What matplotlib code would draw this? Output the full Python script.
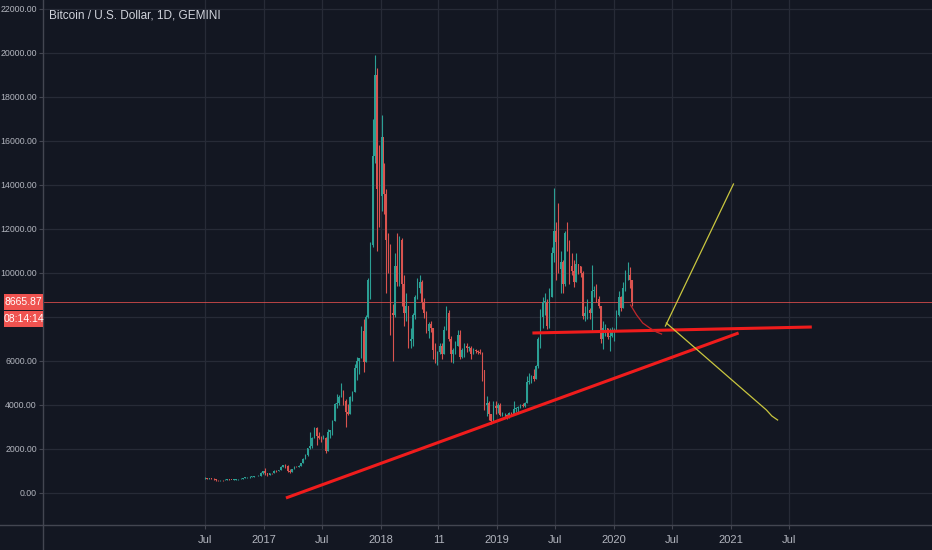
import matplotlib
matplotlib.use("Agg")
import matplotlib.pyplot as plt
import matplotlib.dates as mdates
from matplotlib.patches import Rectangle
from matplotlib.lines import Line2D
import numpy as np
import pandas as pd

# ---- data (weekly candles, weeks start Monday) ----
first_week = "2016-06-27"
first_open = 660

closes = [
    # 2016
    675, 650, 665, 655, 620, 590, 570, 580, 575, 605, 610, 608, 600, 612,
    615, 640, 655, 700, 705, 705, 735, 735, 765, 770, 790, 895, 1000,
    # 2017
    905, 820, 920, 915, 1015, 1000, 1050, 1175, 1270, 1235, 1020, 965, 1080,
    1195, 1180, 1240, 1350, 1560, 1745, 2040, 2150, 2520, 2960, 2600, 2520, 2500,
    2510, 1930, 2750, 2870, 3270, 4050, 4090, 4370, 4600, 4200, 3700, 3600, 4370,
    4600, 5680, 6000, 6150, 7350, 5950, 8000, 9700, 11250, 15300, 19000, 13800, 13500,
    # 2018
    16200, 13600, 11500, 11100, 8200, 8100, 10300, 9600, 11500, 9500, 8200, 8500, 6900,
    7000, 8100, 8900, 9300, 9600, 8700, 8200, 7350, 7700, 7500, 6500, 6200, 6400,
    6700, 6300, 7400, 8200, 7000, 6300, 6500, 6700, 7200, 6200, 6500, 6700, 6600,
    6600, 6300, 6500, 6450, 6400, 6350, 5600, 4000, 4100, 3600, 3250, 3950, 3850, 4000,
    # 2019
    3550, 3550, 3550, 3450, 3650, 3600, 3800, 3850, 3900, 4000, 3950, 4100, 5050,
    5100, 5300, 5200, 5750, 7000, 8000, 8700, 8700, 7600, 8900, 10900, 11900, 11400,
    10200, 10500, 9500, 11800, 11300, 10300, 10100, 9600, 10400, 10300, 10000, 8050, 8200,
    8300, 8200, 9200, 9200, 8800, 8500, 7000, 7500, 7500, 7100, 7150, 7350, 7400,
    # 2020
    8100, 8900, 8400, 9300, 9900, 9900, 9700, 8665.87,
]
highs = [
    705, 685, 680, 675, 660, 630, 600, 590, 590, 615, 630, 615, 610, 618,
    620, 645, 660, 700, 745, 740, 750, 750, 775, 780, 800, 935, 1010,
    1150, 910, 930, 925, 1030, 1060, 1055, 1210, 1290, 1330, 1250, 1070, 1090,
    1210, 1210, 1250, 1360, 1580, 1790, 2050, 2760, 2560, 2980, 2990, 2770, 2600,
    2650, 2560, 2900, 2880, 3300, 4100, 4480, 4450, 4980, 4700, 4250, 4050, 4400,
    4620, 5850, 6200, 6150, 7600, 7900, 8100, 9750, 11400, 17000, 19900, 19300, 15800,
    17200, 15000, 13800, 11800, 11300, 8600, 10900, 11800, 11700, 11600, 9900, 9100, 8500,
    7500, 8200, 9000, 9750, 9900, 9700, 8850, 8250, 7750, 7800, 7500, 6800, 6450,
    6800, 6800, 7600, 8500, 8300, 7150, 6600, 6900, 7400, 7400, 6600, 6800, 6800,
    6700, 6700, 6600, 6550, 6500, 6550, 6400, 5600, 4400, 4200, 3600, 4200, 4200, 4100,
    4100, 3700, 3650, 3600, 3700, 3700, 4200, 3900, 3950, 4050, 4100, 4150, 5300,
    5450, 5350, 5650, 5800, 7100, 8350, 8900, 9100, 8800, 9300, 11200, 13850, 12300,
    13200, 11000, 10600, 11900, 12300, 11500, 10900, 10600, 10900, 10400, 10300, 10100, 8500,
    8800, 8400, 10350, 9400, 9500, 8950, 8500, 7800, 7700, 7500, 7500, 7550, 7500,
    8300, 9200, 8950, 9600, 10150, 10500, 10250, 9700,
]
lows = [
    640, 630, 645, 645, 610, 540, 560, 565, 565, 570, 600, 600, 590, 595,
    605, 612, 630, 650, 680, 700, 695, 725, 730, 755, 765, 790, 885,
    810, 750, 810, 880, 915, 940, 990, 1050, 1160, 1130, 950, 900, 960,
    1075, 1160, 1175, 1235, 1350, 1560, 1700, 2000, 2060, 2480, 2200, 2440, 2300,
    2460, 1840, 1930, 2480, 2650, 3250, 3850, 3990, 4360, 4000, 2980, 3550, 3600,
    4180, 4600, 5150, 5400, 6150, 5500, 5950, 7950, 8800, 11200, 15000, 11000, 12100,
    12800, 12700, 9100, 10000, 7200, 6000, 8000, 9400, 9400, 8500, 7600, 7800, 6600,
    6600, 6700, 7900, 8800, 9100, 8350, 7950, 7250, 7050, 7300, 6100, 5900, 5800,
    6300, 6100, 6300, 7400, 6900, 5950, 5900, 6300, 6700, 6100, 6150, 6200, 6400,
    6450, 6100, 6300, 6350, 6300, 6300, 5100, 3750, 3500, 3300, 3150, 3250, 3600, 3650,
    3500, 3500, 3450, 3350, 3400, 3550, 3600, 3700, 3700, 3850, 3900, 3900, 4100,
    4950, 5000, 5100, 5200, 5700, 6600, 7500, 8100, 7450, 7500, 8900, 10500, 9700,
    10000, 9100, 9100, 9400, 11000, 9500, 9900, 9350, 9600, 9950, 9800, 7900, 7800,
    7900, 7900, 7400, 8900, 8700, 8400, 6800, 6550, 7150, 7000, 6450, 7100, 6900,
    7650, 8050, 8250, 8400, 9200, 9700, 9300, 8500,
]

last_price = 8665.87
countdown = "08:14:14"
title = "Bitcoin / U.S. Dollar, 1D, GEMINI"

# x axis ticks
tick_dates = ["2016-07-01", "2017-01-01", "2017-07-01", "2018-01-01", "2018-07-01",
              "2019-01-01", "2019-07-01", "2020-01-01", "2020-07-01", "2021-01-01",
              "2021-07-01"]
tick_labels = ["Jul", "2017", "Jul", "2018", "11", "2019", "Jul", "2020", "Jul",
               "2021", "Jul"]
y_ticks = list(range(0, 22001, 2000))

# drawings on the chart
support_dates = ["2017-03-11", "2021-01-25"]
support_vals = [-227, 7273]
flat_dates = ["2019-04-21", "2021-09-11"]
flat_vals = [7273, 7545]
path_dates = ["2020-02-22", "2020-03-12", "2020-03-31", "2020-04-22", "2020-05-13", "2020-05-29"]
path_vals = [8545, 8091, 7727, 7500, 7318, 7227]
bull_dates = ["2020-06-10", "2021-01-09"]
bull_vals = [7590, 14045]
bear_dates = ["2020-06-13", "2021-04-22", "2021-05-09", "2021-05-27"]
bear_vals = [7727, 3773, 3500, 3318]

# ---- style ----
BG = "#131722"
GRID = "#272b37"
AXIS = "#434651"
TEXT = "#b2b5be"
UP = "#2b9f94"
DOWN = "#d9534f"

plt.rcParams['font.family'] = ['Liberation Sans', 'DejaVu Sans']

fig = plt.figure(figsize=(9.32, 5.5), dpi=100, facecolor=BG)
ax = fig.add_axes([43 / 932, 25 / 550, 889 / 932, 525 / 550])
ax.set_facecolor(BG)

weeks = pd.date_range(first_week, periods=len(closes), freq="W-MON")
xs = mdates.date2num(weeks) + 3
c = np.array(closes, dtype=float)
o = np.concatenate([[first_open], c[:-1]])
h = np.array(highs, dtype=float)
l = np.array(lows, dtype=float)
up = c >= o
cols = np.where(up, UP, DOWN)

ax.vlines(xs, l, h, colors=cols, linewidth=0.8, zorder=3)
ax.bar(xs, np.maximum(np.abs(c - o), 15), bottom=np.minimum(o, c), width=4.5,
       color=cols, linewidth=0, zorder=3)

# current price line
ax.axhline(last_price, color="#ef5350", linewidth=0.7, alpha=0.75, zorder=2)

def d(lst):
    return mdates.date2num(pd.to_datetime(lst))

ax.plot(d(support_dates), support_vals, color="#f01c1c", linewidth=2.2, zorder=4,
        solid_capstyle="butt")
ax.plot(d(flat_dates), flat_vals, color="#f01c1c", linewidth=2.2, zorder=4,
        solid_capstyle="butt")
ax.plot(d(path_dates), path_vals, color="#c0262b", linewidth=0.9, zorder=4)
ax.plot(d(bull_dates), bull_vals, color="#c9c63f", linewidth=0.9, zorder=4)
ax.plot(d(bear_dates), bear_vals, color="#c9c63f", linewidth=0.9, zorder=4)

# axes
ax.set_xlim(mdates.date2num(pd.Timestamp("2015-02-10")),
            mdates.date2num(pd.Timestamp("2022-09-22")))
ax.set_ylim(-1455, 22409)
ax.set_xticks(d(tick_dates))
ax.set_xticklabels(tick_labels)
ax.set_yticks(y_ticks)
ax.grid(True, color=GRID, linewidth=0.9, zorder=0)
ax.tick_params(axis="both", colors=AXIS, labelcolor=TEXT, labelsize=8, length=3)
ax.tick_params(axis="y", labelsize=6.3, pad=1.5)
ax.tick_params(axis="x", pad=4)
for s in ax.spines.values():
    s.set_visible(False)

# full-width separators of the price / time scales
fig.add_artist(Line2D([0, 1], [25 / 550, 25 / 550], transform=fig.transFigure,
                      color=AXIS, linewidth=1.0))
fig.add_artist(Line2D([43 / 932, 43 / 932], [0, 1], transform=fig.transFigure,
                      color=AXIS, linewidth=1.0))

ax.text(6 / 889, 1 - 16 / 525, title, transform=ax.transAxes, va="center", ha="left",
        fontsize=8.5, color="#d1d4dc")

# price label boxes on the axis
fig.canvas.draw()
y_pix = ax.transData.transform((0, last_price))[1]
W, H = fig.bbox.width, fig.bbox.height
box_h = 16
box_bottom = y_pix - box_h * 1.5 - 1
box_top = y_pix + box_h / 2

# tick labels hidden behind the boxes are left blank, as on the chart
ylabels = []
for v in y_ticks:
    yp = ax.transData.transform((0, v))[1]
    ylabels.append("" if box_bottom - 5 < yp < box_top + 5 else f"{v:.2f}")
ax.set_yticklabels(ylabels)

for i, txt in enumerate([f"{last_price:.2f}", countdown]):
    yc = y_pix - i * (box_h + 1)
    fig.patches.append(Rectangle((4 / W, (yc - box_h / 2) / H), 39 / W, box_h / H,
                                 transform=fig.transFigure, facecolor="#ef5350",
                                 edgecolor="none", zorder=5))
    fig.text(23.5 / W, yc / H, txt, ha="center", va="center", color="white",
             fontsize=7.5, zorder=6)

fig.savefig("out.png", dpi=100, facecolor=BG)
